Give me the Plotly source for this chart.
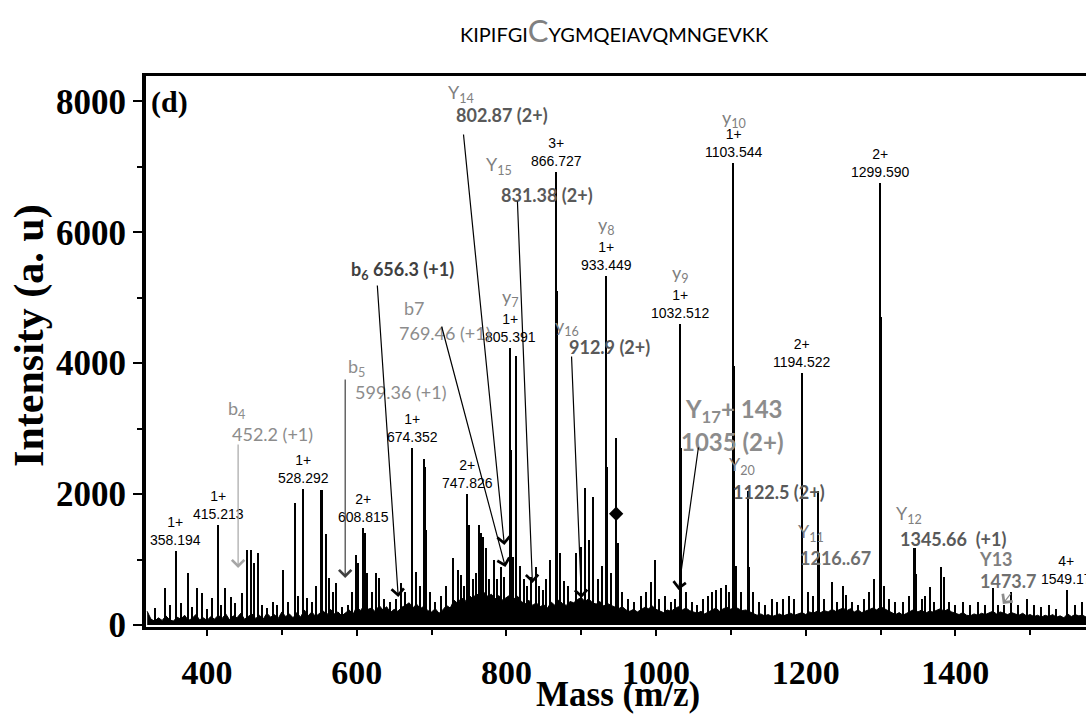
import plotly.graph_objects as go

# ---------------- spectrum data ----------------
# baseline envelope, one value every 5 m/z from 320
noise_mz = list(range(320, 1580, 5))
noise_level = [
    210, 90, 60, 110, 70, 140, 80, 60, 120, 90, 150, 70, 100, 160, 80, 110, 70, 130, 90, 150,
    100, 170, 80, 140, 110, 180, 90, 130, 170, 100, 150, 90, 180, 120, 160, 100, 200, 130, 170, 110,
    190, 120, 230, 140, 200, 130, 180, 220, 150, 240, 170, 200, 140, 190, 230, 160, 280, 220, 300, 240,
    260, 200, 300, 230, 280, 190, 240, 210, 270, 300, 340, 260, 320, 250, 290, 220, 200, 250, 180, 230,
    300, 260, 380, 330, 420, 360, 460, 400, 480, 430, 500, 440, 470, 400, 450, 380, 420, 460, 400, 440,
    360, 320, 380, 300, 340, 280, 310, 260, 350, 300, 380, 330, 300, 360, 340, 390, 420, 360, 400, 340,
    320, 360, 290, 330, 300, 270, 250, 280, 230, 210, 240, 200, 230, 270, 250, 290, 240, 220, 190, 230,
    210, 250, 280, 230, 260, 220, 200, 180, 210, 170, 200, 230, 260, 210, 250, 270, 240, 280, 250, 220,
    230, 200, 180, 150, 170, 140, 160, 130, 150, 170, 140, 160, 180, 150, 170, 190, 160, 200, 180, 210,
    190, 220, 200, 240, 210, 230, 260, 220, 250, 200, 230, 190, 210, 240, 260, 230, 280, 250, 220, 180,
    160, 190, 150, 180, 210, 240, 200, 230, 180, 210, 200, 230, 250, 210, 240, 200, 180, 160, 190, 150,
    140, 170, 150, 180, 160, 190, 210, 170, 200, 180, 160, 190, 170, 150, 180, 140, 160, 130, 150, 120,
    150, 130, 160, 120, 140, 110, 170, 130, 160, 140, 150, 120,
]

# centroid sticks (m/z, intensity)
peak_mz = [
    331, 343.8, 350, 358.194, 365, 374.6, 380, 386.6, 393, 400, 407, 415.213, 419, 424, 431.7,
    437, 446.8, 453, 458.3, 462.9, 468.2, 474, 480, 488, 494, 501.7, 508, 517.7, 522, 528.292,
    534, 540, 546, 559.6, 563.2, 568, 572.1, 580.6, 588, 594, 602, 608.815, 614, 620, 625.7,
    630, 636, 645, 652, 665, 674.352, 679.2, 684, 690.3, 692.5, 698, 705, 712, 720, 728.2,
    734.9, 739.4, 743, 747.826, 750.5, 755, 760, 763.9, 766.1, 768.3, 772.8, 777, 783.9, 788,
    792.9, 797.3, 805.391, 808.5, 812.5, 818, 823, 828, 833, 839.7, 844, 848.6, 853, 858,
    866.727, 872, 876.8, 882, 893, 899.9, 905.7, 911, 916.4, 922, 928, 933.449, 940, 948.9,
    955, 962, 970, 980, 987, 993.6, 998, 1004, 1012, 1020, 1025, 1032.512, 1040, 1048, 1055,
    1063, 1070, 1075, 1080.5, 1087.2, 1093.9, 1098, 1103.544, 1107, 1113, 1124, 1130, 1138,
    1146, 1155, 1162, 1170, 1178, 1185, 1194.522, 1203, 1210, 1216.67, 1225, 1234.8, 1242,
    1250.5, 1254.3, 1262, 1270, 1278, 1285, 1291.6, 1299.59, 1305, 1312, 1320, 1330, 1338,
    1347.6, 1355, 1360, 1366.2, 1372, 1384.9, 1392, 1400, 1410, 1420, 1430, 1440, 1450, 1457,
    1465, 1474.3, 1484, 1495.6, 1505, 1515, 1525, 1535, 1549.17, 1560, 1569,
]
peak_int = [
    260, 565, 300, 1135, 330, 800, 280, 565, 490, 250, 420, 1528, 300, 565, 430,
    330, 490, 1146, 1146, 947, 1105, 300, 260, 350, 300, 840, 350, 1864, 450, 2083,
    420, 350, 600, 1390, 718, 500, 641, 280, 300, 500, 947, 1477, 795, 500, 795,
    718, 400, 350, 400, 500, 2700, 815, 600, 2530, 1450, 500, 350, 450, 600, 1030,
    840, 764, 600, 2000, 1528, 700, 800, 1528, 1405, 1350, 1170, 700, 993, 700,
    890, 738, 4228, 1043, 4110, 900, 700, 600, 738, 890, 600, 535, 700, 1000,
    6920, 1100, 673, 600, 1100, 1196, 2100, 1300, 1950, 700, 900, 5330, 800, 1248,
    500, 400, 350, 450, 500, 662, 993, 400, 450, 350, 400, 4600, 500, 350, 300,
    400, 450, 500, 535, 565, 611, 500, 7060, 900, 500, 890, 500, 350,
    300, 400, 350, 400, 450, 400, 3843, 500, 450, 2050, 400, 650, 350,
    600, 460, 350, 300, 400, 500, 700, 6750, 600, 400, 350, 350, 450,
    780, 400, 450, 580, 350, 727, 350, 300, 350, 300, 350, 300, 560, 305,
    300, 500, 300, 400, 300, 280, 300, 250, 530, 300, 350,
]

# broad (profile) peak bodies (m/z, intensity, width in m/z)
prof_mz = [552.9, 598.9, 611, 659, 673.6, 690.6, 805.6, 812.8, 866.9, 867.6, 934.0, 946.7,
           1032.9, 1103.9, 1122.5, 1194.9, 1217.0, 1299.4, 1299.9, 1345.66, 1381.1]
prof_int = [2062, 1070, 1405, 641, 2475, 2410, 2673, 2630, 5100, 4050, 2420, 2850,
            2700, 3950, 2050, 1020, 1100, 6320, 4700, 1180, 890]
prof_w = [3, 3, 2, 3, 3, 3, 3, 3, 3, 4, 3, 2,
          3, 3, 3, 3, 3, 2.5, 4, 2.5, 2]

# marked peak
diamond_mz = [946.7]
diamond_int = [1700]

# charge / m/z annotations on peaks
lab_mz = [358.194, 415.213, 528.292, 608.815, 674.352, 747.826, 805.391, 866.727,
          933.449, 1032.512, 1103.544, 1194.522, 1299.59, 1549.17]
lab_charge = ["1+", "1+", "1+", "2+", "1+", "2+", "1+", "3+", "1+", "1+", "1+", "2+", "2+", "4+"]
lab_text = ["358.194", "415.213", "528.292", "608.815", "674.352", "747.826", "805.391",
            "866.727", "933.449", "1032.512", "1103.544", "1194.522", "1299.590", "1549.17"]

# ion names stacked over some of those labels
ion_over = {805.391: ("y<sub>7</sub>", 36), 933.449: ("y<sub>8</sub>", 36),
            1032.512: ("y<sub>9</sub>", 36), 1103.544: ("y<sub>10</sub>", 30)}

# fragment labels: text, m/z, intensity, size, colour, bold
frag_labels = [
    ("b<sub>4</sub>", 438.8, 3300, 18, "#8c8c8c", False),
    ("452.2 (+1)", 487, 2918, 18, "#8c8c8c", False),
    ("b<sub>5</sub>", 599.3, 3942, 18, "#8c8c8c", False),
    ("599.36 (+1)", 659.5, 3560, 18, "#8c8c8c", False),
    ("b<sub>6</sub> 656.3 (+1)", 660.9, 5424, 18, "#404040", True),
    ("b7", 676.9, 4843, 18, "#8c8c8c", False),
    ("769.46 (+1)", 718.4, 4461, 18, "#8c8c8c", False),
    ("Y<sub>14</sub>", 739.8, 8128, 18, "#7f7f7f", False),
    ("802.87 (2+)", 794.6, 7792, 18, "#595959", True),
    ("Y<sub>15</sub>", 790.6, 7028, 18, "#7f7f7f", False),
    ("831.38 (2+)", 854.8, 6570, 18, "#595959", True),
    ("y<sub>16</sub>", 881.6, 4568, 18, "#7f7f7f", False),
    ("912.9 (2+)", 937.8, 4248, 18, "#595959", True),
    ("Y<sub>17</sub>+ 143", 1104.5, 3285, 24, "#8c8c8c", True),
    ("1035 (2+)", 1102.3, 2811, 24, "#8c8c8c", True),
    ("Y<sub>20</sub>", 1114.4, 2430, 18, "#7f7f7f", False),
    ("1122.5 (2+)", 1163.9, 2032, 18, "#595959", True),
    ("Y<sub>11</sub>", 1206.7, 1421, 18, "#7f7f7f", False),
    ("1216..67", 1240.1, 1024, 18, "#6f6f6f", True),
    ("Y<sub>12</sub>", 1337.8, 1696, 18, "#7f7f7f", False),
    ("1345.66  (+1)", 1396.7, 1314, 18, "#595959", True),
    ("Y13", 1454.2, 1010, 18, "#7f7f7f", True),
    ("1473.7", 1470.2, 680, 18, "#6f6f6f", True),
]

# leader arrows: head m/z, head intensity, tail m/z, tail intensity, colour
arrows = [
    (441.5, 871, 441.5, 2781, "#a6a6a6"),
    (584.6, 718, 584.6, 3774, "#404040"),
    (655.5, 428, 627.4, 5210, "black"),
    (798.7, 886, 713.0, 4584, "black"),
    (797.3, 1222, 742.5, 7517, "black"),
    (834.8, 642, 814.7, 6494, "black"),
    (900.3, 412, 887.0, 4125, "black"),
    (1030.1, 535, 1056.9, 2735, "black"),
    (1463.5, 321, 1475.6, 504, "#8c8c8c"),
]

fig = go.Figure()

fig.add_trace(go.Scatter(
    x=noise_mz, y=noise_level, mode="lines", fill="tozeroy",
    line=dict(color="black", width=1), fillcolor="black", hoverinfo="skip"))
fig.add_trace(go.Bar(
    x=prof_mz, y=prof_int, width=prof_w, marker=dict(color="black", line=dict(width=0))))
fig.add_trace(go.Bar(
    x=peak_mz, y=peak_int, width=1.4, marker=dict(color="black", line=dict(width=0))))
fig.add_trace(go.Scatter(
    x=diamond_mz, y=diamond_int, mode="markers",
    marker=dict(symbol="diamond", size=11, color="black")))

annotations = []
sans = "Liberation Sans, Arial, sans-serif"
lato = "Lato, Open Sans, sans-serif"
serif = "Liberation Serif, Times New Roman, serif"

peak_lookup = dict(zip(peak_mz, peak_int))
for mz, ch, txt in zip(lab_mz, lab_charge, lab_text):
    h = peak_lookup[mz]
    annotations.append(dict(
        x=mz, y=h, xref="x", yref="y", text=f"{ch}<br>{txt}", showarrow=False,
        yanchor="bottom", xanchor="center", yshift=1,
        font=dict(family=sans, size=14, color="black")))
    if mz in ion_over:
        name, shift = ion_over[mz]
        annotations.append(dict(
            x=mz, y=h, xref="x", yref="y", text=name, showarrow=False,
            yanchor="bottom", xanchor="center", yshift=shift,
            font=dict(family=lato, size=18, color="#7f7f7f")))

for txt, mz, inten, size, col, bold in frag_labels:
    annotations.append(dict(
        x=mz, y=inten, xref="x", yref="y", text=f"<b>{txt}</b>" if bold else txt,
        showarrow=False, xanchor="center", yanchor="middle",
        font=dict(family=lato, size=size, color=col)))

for hx, hy, tx, ty, col in arrows:
    annotations.append(dict(
        x=hx, y=hy, ax=tx, ay=ty, xref="x", yref="y", axref="x", ayref="y",
        text="", showarrow=True, arrowhead=4, arrowsize=2, arrowwidth=1.2,
        arrowcolor=col, standoff=0))

# peptide sequence with the modified cysteine highlighted
annotations.append(dict(
    x=0.4984, y=1.083, xref="paper", yref="paper", showarrow=False,
    text="KIPIFGI<span style='font-size:31px;color:#808080'>C</span>YGMQEIAVQMNGEVKK",
    xanchor="center", yanchor="middle", font=dict(family=lato, size=20, color="black")))

# panel letter
annotations.append(dict(
    x=0.0245, y=0.953, xref="paper", yref="paper", showarrow=False, text="<b>(d)</b>",
    xanchor="center", yanchor="middle", font=dict(family=serif, size=30, color="black")))

# axis titles
annotations.append(dict(
    x=-0.1235, y=0.530, xref="paper", yref="paper", showarrow=False,
    text="<b>Intensity (a. u)</b>", textangle=-90, xanchor="center", yanchor="middle",
    font=dict(family=serif, size=42, color="black")))
annotations.append(dict(
    x=0.502, y=-0.1234, xref="paper", yref="paper", showarrow=False,
    text="<b>Mass (m/z)</b>", xanchor="center", yanchor="middle",
    font=dict(family=serif, size=35, color="black")))

fig.update_layout(
    width=1086, height=715,
    margin=dict(l=146, r=0, t=76, b=88),
    paper_bgcolor="white", plot_bgcolor="white",
    showlegend=False, barmode="overlay", bargap=0,
    annotations=annotations,
    xaxis=dict(
        range=[318.4, 1574.6], tick0=0, dtick=200, showgrid=False, zeroline=False,
        showline=True, linecolor="black", linewidth=3, mirror=True,
        ticks="outside", ticklen=6, tickwidth=2, tickcolor="black", ticklabelstandoff=7,
        minor=dict(dtick=100, ticks="outside", ticklen=5, tickwidth=1.5, tickcolor="black"),
        tickfont=dict(family=serif, size=34, color="black", weight="bold"),
    ),
    yaxis=dict(
        range=[-30, 8388], tickvals=[0, 2000, 4000, 6000, 8000], showgrid=False,
        zeroline=False, showline=True, linecolor="black", linewidth=4,
        ticks="outside", ticklen=9, tickwidth=2, tickcolor="black",
        minor=dict(dtick=1000, ticks="outside", ticklen=5, tickwidth=1.5, tickcolor="black"),
        tickfont=dict(family=serif, size=35, color="black", weight="bold"),
    ),
)

fig.write_html("out.html")
